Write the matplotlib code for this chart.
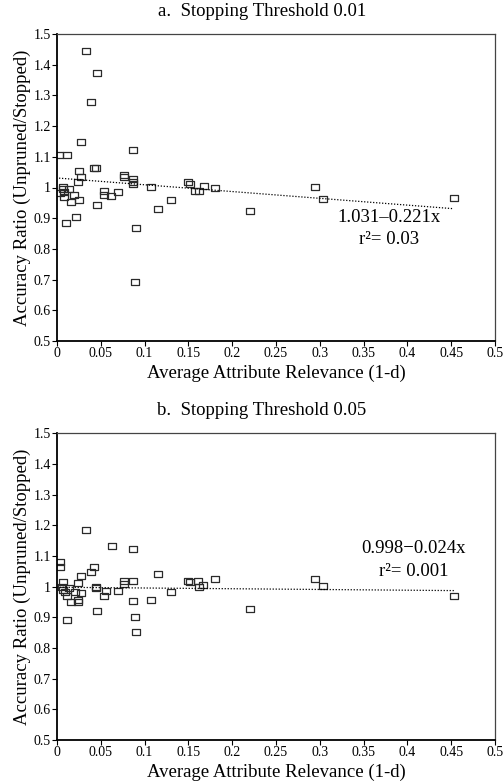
import numpy as np
import matplotlib
matplotlib.use("Agg")
import matplotlib.pyplot as plt
from matplotlib.path import Path
from matplotlib.ticker import FuncFormatter, MultipleLocator

plt.rcParams['font.family'] = ['Liberation Serif', 'DejaVu Serif']

# a. stopping threshold 0.01
x_a = [0.0023, 0.011, 0.0072, 0.0072, 0.008, 0.0034, 0.0084, 0.0137, 0.0198, 0.016,
       0.025, 0.0217, 0.0107, 0.0248, 0.027, 0.024, 0.027, 0.0331, 0.0388, 0.042,
       0.044, 0.046, 0.046, 0.054, 0.054, 0.062, 0.070, 0.076, 0.076, 0.087,
       0.087, 0.087, 0.087, 0.089, 0.090, 0.107, 0.115, 0.130, 0.149, 0.152,
       0.158, 0.162, 0.168, 0.180, 0.2207, 0.2945, 0.304, 0.453]
y_a = [1.107, 1.107, 1.003, 0.994, 0.986, 0.981, 0.968, 0.994, 0.977, 0.953,
       0.960, 0.905, 0.883, 1.055, 1.035, 1.018, 1.147, 1.446, 1.278, 1.062,
       1.065, 1.372, 0.942, 0.989, 0.977, 0.972, 0.984, 1.042, 1.035, 1.122,
       1.028, 1.018, 1.011, 0.692, 0.869, 1.001, 0.929, 0.958, 1.018, 1.011,
       0.989, 0.989, 1.006, 0.999, 0.924, 1.001, 0.964, 0.967]

# b. stopping threshold 0.05
x_b = [0.003, 0.003, 0.0335, 0.0624, 0.087, 0.042, 0.0388, 0.027, 0.115, 0.0765,
       0.0765, 0.087, 0.024, 0.149, 0.152, 0.161, 0.162, 0.167, 0.180, 0.045,
       0.044, 0.0556, 0.054, 0.070, 0.0072, 0.006, 0.0072, 0.009, 0.0137, 0.011,
       0.0205, 0.027, 0.016, 0.0243, 0.0243, 0.087, 0.107, 0.130, 0.046, 0.089,
       0.090, 0.011, 0.2207, 0.2945, 0.304, 0.453]
y_b = [1.079, 1.065, 1.185, 1.133, 1.124, 1.063, 1.047, 1.036, 1.042, 1.020,
       1.009, 1.017, 1.011, 1.020, 1.015, 1.020, 0.998, 1.004, 1.024, 1.000,
       0.995, 0.985, 0.969, 0.987, 1.015, 1.000, 0.990, 0.981, 0.995, 0.971,
       0.982, 0.979, 0.950, 0.957, 0.950, 0.954, 0.957, 0.981, 0.921, 0.901,
       0.851, 0.890, 0.927, 1.024, 1.003, 0.970]

titles = ["a.  Stopping Threshold 0.01", "b.  Stopping Threshold 0.05"]
fits = [(1.031, -0.221), (0.998, -0.024)]
fit_text = ["1.031\u20130.221x", "0.998\u22120.024x"]
r2_text = ["r\u00b2= 0.03", "r\u00b2= 0.001"]
text_pos = [(0.379, 0.903, 0.832), (0.407, 1.125, 1.049)]

# rechteckiger offener Marker, etwas breiter als hoch
box = Path([(-1, -0.7), (1, -0.7), (1, 0.7), (-1, 0.7), (-1, -0.7)],
           [Path.MOVETO, Path.LINETO, Path.LINETO, Path.LINETO, Path.CLOSEPOLY])

fig = plt.figure(figsize=(5.03, 7.83), dpi=100)
W, H = 503, 783
axes_px = [(34, 341), (433.3, 740)]
title_y = [12, 410]
fs = 13.5

fmt = FuncFormatter(lambda v, p: f"{v:g}")

for i, (xs, ys) in enumerate([(x_a, y_a), (x_b, y_b)]):
    top, bot = axes_px[i]
    ax = fig.add_axes([57 / W, 1 - bot / H, (495 - 57) / W, (bot - top) / H])
    ax.plot(xs, ys, linestyle='none', marker=box, markersize=5.6,
            markerfacecolor='none', markeredgecolor='#2a2a2a', markeredgewidth=0.9)

    b0, b1 = fits[i]
    lx = np.array([min(xs), max(xs)])
    ax.plot(lx, b0 + b1 * lx, color='black', lw=0.9, linestyle=(0, (1, 1.4)))

    tx, ty1, ty2 = text_pos[i]
    ax.text(tx, ty1, fit_text[i], ha='center', va='center', fontsize=fs)
    ax.text(tx, ty2, r2_text[i], ha='center', va='center', fontsize=fs)

    ax.set_xlim(0, 0.5)
    ax.set_ylim(0.5, 1.5)
    ax.xaxis.set_major_locator(MultipleLocator(0.05))
    ax.yaxis.set_major_locator(MultipleLocator(0.1))
    ax.xaxis.set_major_formatter(fmt)
    ax.yaxis.set_major_formatter(fmt)
    ax.tick_params(direction='out', length=3.5, width=0.8, pad=1, labelsize=10,
                   top=False, right=False)
    for s in ['left', 'bottom']:
        ax.spines[s].set_linewidth(1.3)
    for s in ['top', 'right']:
        ax.spines[s].set_linewidth(0.9)
        ax.spines[s].set_color('#444444')

    ax.set_xlabel("Average Attribute Relevance (1-d)", fontsize=fs, labelpad=3)
    ax.set_ylabel("Accuracy Ratio (Unpruned/Stopped)", fontsize=fs, labelpad=2)

    fig.text(262 / W, 1 - title_y[i] / H, titles[i], ha='center', va='center',
             fontsize=fs)

fig.savefig("out.png", dpi=100)
